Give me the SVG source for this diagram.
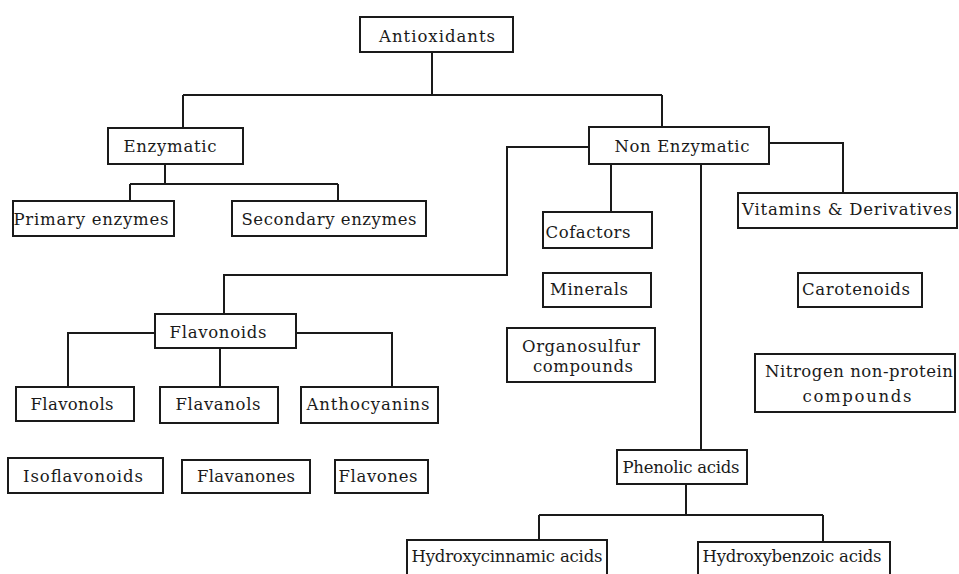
<svg xmlns="http://www.w3.org/2000/svg" width="959" height="574" viewBox="0 0 959 574">
<style>
.box{fill:#fff;stroke:#1a1a1a;stroke-width:2}
.lbl{font-family:"DejaVu Serif","Liberation Serif",serif;font-size:16.5px;fill:#1a1a1a;text-anchor:middle}
.conn{fill:none;stroke:#1a1a1a;stroke-width:2}
</style>
<rect width="959" height="574" fill="#fff"/>
<g id="connectors">
<path class="conn" d="M432,52 V95 M183,95 H662 M183,95 V128 M662,95 V127"/>
<path class="conn" d="M165,164 V184 M130,184 H338 M130,184 V201 M338,184 V201"/>
<path class="conn" d="M589,147 H507 V275 H224 V314"/>
<path class="conn" d="M769,143 H843 V193"/>
<path class="conn" d="M611,164 V212"/>
<path class="conn" d="M701,164 V450"/>
<path class="conn" d="M155,333 H68 V387 M220,348 V387 M296,333 H392 V387"/>
<path class="conn" d="M686,484 V515 M539,515 H823 M539,515 V540 M823,515 V542"/>
</g>
<g id="antioxidants"><rect class="box" x="360" y="17" width="153" height="35"/><text class="lbl" x="437" y="42" textLength="116">Antioxidants</text></g>
<g id="enzymatic"><rect class="box" x="108" y="128" width="135" height="36"/><text class="lbl" x="170" y="152" textLength="93">Enzymatic</text></g>
<g id="primary"><rect class="box" x="13" y="201" width="161" height="35"/><text class="lbl" x="91" y="225" textLength="155">Primary enzymes</text></g>
<g id="secondary"><rect class="box" x="232" y="201" width="194" height="35"/><text class="lbl" x="329" y="225" textLength="175">Secondary enzymes</text></g>
<g id="nonenzymatic"><rect class="box" x="589" y="127" width="180" height="37"/><text class="lbl" x="682" y="152" textLength="135">Non Enzymatic</text></g>
<g id="cofactors"><rect class="box" x="543" y="212" width="109" height="36"/><text class="lbl" x="588" y="238" textLength="85">Cofactors</text></g>
<g id="vitamins"><rect class="box" x="738" y="193" width="219" height="35"/><text class="lbl" x="847" y="215" textLength="210">Vitamins &amp; Derivatives</text></g>
<g id="minerals"><rect class="box" x="543" y="273" width="108" height="34"/><text class="lbl" x="589" y="295" textLength="78">Minerals</text></g>
<g id="organosulfur"><rect class="box" x="507" y="328" width="148" height="54"/><text class="lbl" x="581" y="352" textLength="118">Organosulfur</text><text class="lbl" x="583" y="372" textLength="100">compounds</text></g>
<g id="carotenoids"><rect class="box" x="798" y="273" width="124" height="34"/><text class="lbl" x="856" y="295" textLength="108">Carotenoids</text></g>
<g id="nitrogen"><rect class="box" x="755" y="354" width="200" height="58"/><text class="lbl" x="859" y="377" textLength="188">Nitrogen non-protein</text><text class="lbl" x="857" y="402" textLength="109">compounds</text></g>
<g id="flavonoids"><rect class="box" x="155" y="314" width="141" height="34"/><text class="lbl" x="218" y="338" textLength="97">Flavonoids</text></g>
<g id="flavonols"><rect class="box" x="16" y="387" width="118" height="34"/><text class="lbl" x="72" y="410" textLength="83">Flavonols</text></g>
<g id="flavanols"><rect class="box" x="160" y="387" width="118" height="36"/><text class="lbl" x="218" y="410" textLength="85">Flavanols</text></g>
<g id="anthocyanins"><rect class="box" x="301" y="387" width="137" height="36"/><text class="lbl" x="368" y="410" textLength="123">Anthocyanins</text></g>
<g id="isoflavonoids"><rect class="box" x="8" y="458" width="155" height="35"/><text class="lbl" x="83" y="482" textLength="120">Isoflavonoids</text></g>
<g id="flavanones"><rect class="box" x="182" y="460" width="128" height="33"/><text class="lbl" x="246" y="482" textLength="98">Flavanones</text></g>
<g id="flavones"><rect class="box" x="335" y="460" width="93" height="33"/><text class="lbl" x="378" y="482" textLength="79">Flavones</text></g>
<g id="phenolic"><rect class="box" x="617" y="450" width="130" height="34"/><text class="lbl" x="681" y="473" textLength="117">Phenolic acids</text></g>
<g id="hydroxycinnamic"><rect class="box" x="407" y="540" width="200" height="45"/><text class="lbl" x="507" y="562" textLength="191">Hydroxycinnamic acids</text></g>
<g id="hydroxybenzoic"><rect class="box" x="698" y="542" width="192" height="45"/><text class="lbl" x="792" y="562" textLength="179">Hydroxybenzoic acids</text></g>
</svg>
